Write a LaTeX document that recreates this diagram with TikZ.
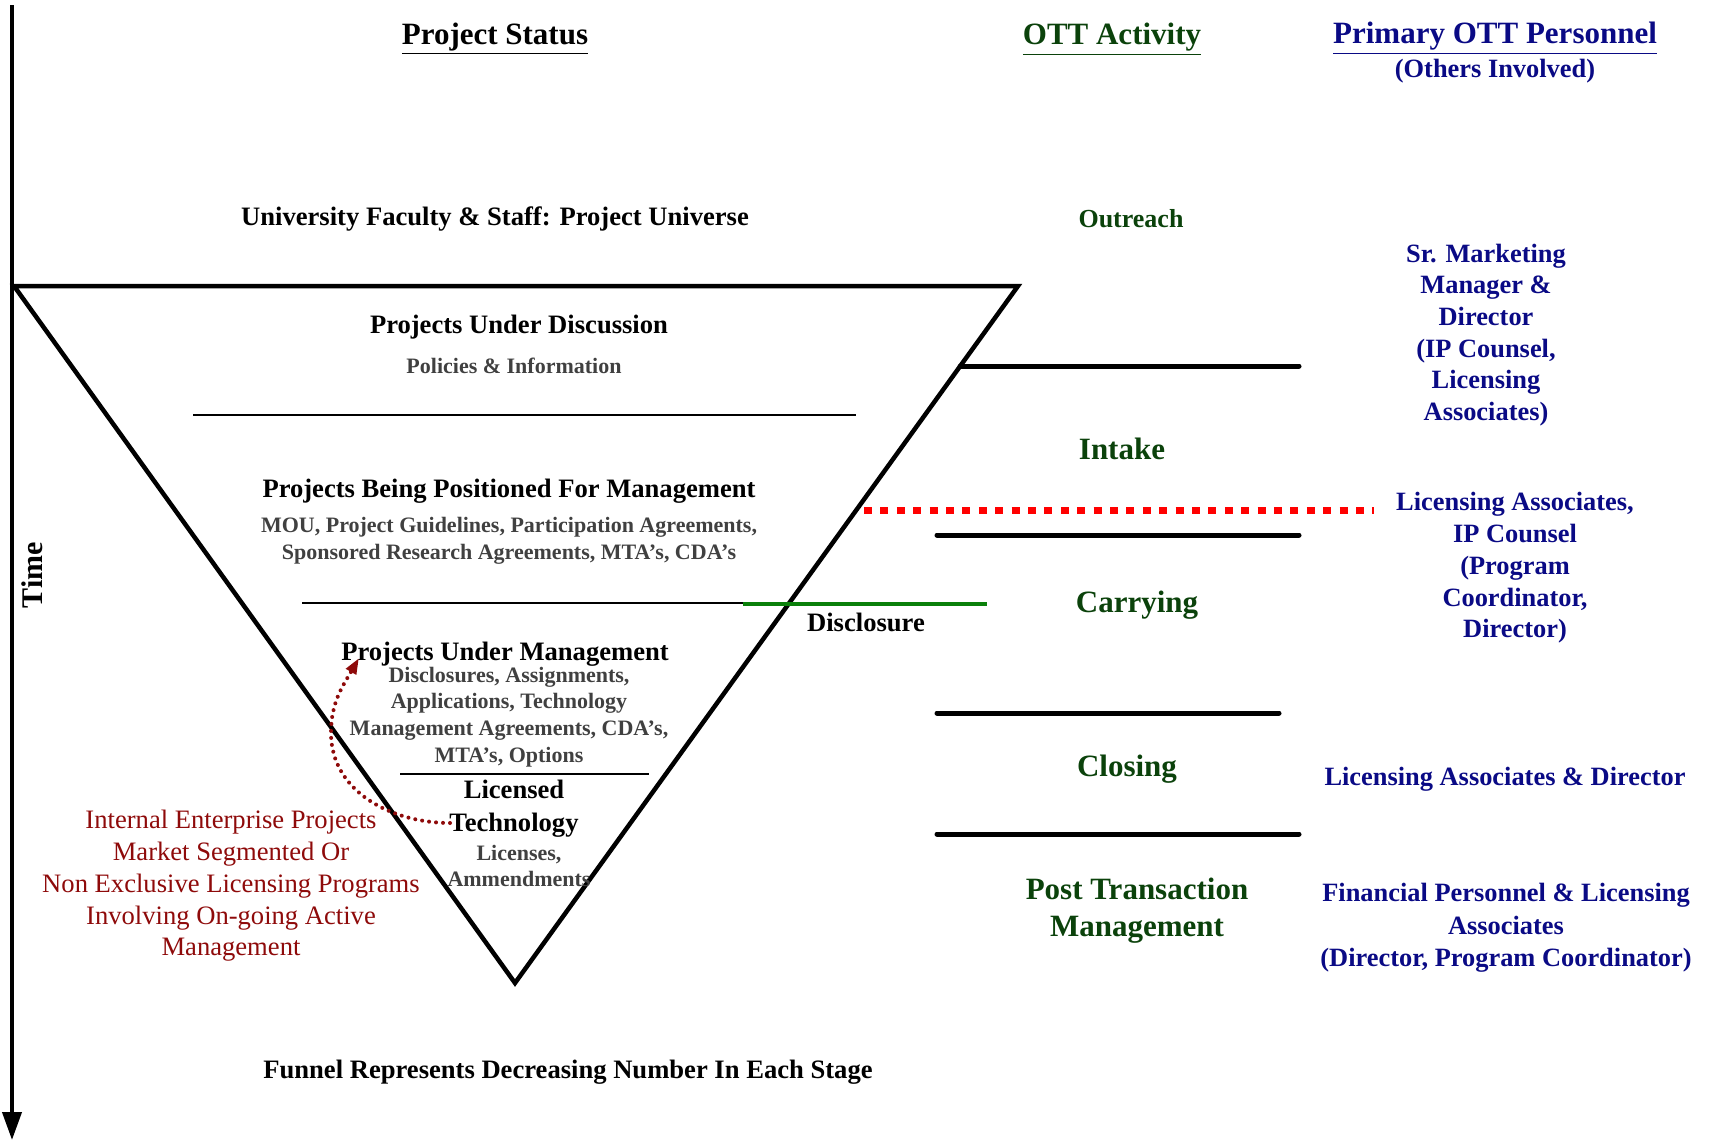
\documentclass[tikz,border=0pt]{standalone}
\usepackage{fontspec}
\setmainfont{Liberation Serif}
\usetikzlibrary{arrows.meta}

\begin{document}
\begin{tikzpicture}[x=0.5pt, y=-0.5pt,
    headText/.style={font=\bfseries\fontsize{15.5}{18}\selectfont, inner sep=0pt},
    stageText/.style={font=\bfseries\fontsize{13.3}{16}\selectfont, align=center, inner sep=0pt},
    noteText/.style={font=\bfseries\fontsize{11}{13.4}\selectfont, text=noteGrey, align=center, inner sep=0pt},
    activitySmall/.style={font=\bfseries\fontsize{13}{16}\selectfont, text=activityGreen, align=center, inner sep=0pt},
    activityText/.style={font=\bfseries\fontsize{15.5}{18.5}\selectfont, text=activityGreen, align=center, inner sep=0pt},
    staffText/.style={font=\bfseries\fontsize{13.2}{15.85}\selectfont, text=staffBlue, align=center, inner sep=0pt},
    stageLine/.style={line width=2.5pt, line cap=round},
    innerLine/.style={line width=1.2pt}]

    \definecolor{activityGreen}{HTML}{0B420B}
    \definecolor{staffBlue}{HTML}{0A0A85}
    \definecolor{noteGrey}{HTML}{404040}
    \definecolor{internalRed}{HTML}{8E0A0A}
    \definecolor{disclosureGreen}{HTML}{0A800A}

    \useasboundingbox (0,0) rectangle (1714,1141);

    % Time axis
    \coordinate (timeTop) at (12,5);
    \coordinate (timeEnd) at (12,1140);
    \draw[line width=2pt, -{Triangle[length=14pt, width=9.5pt]}] (timeTop) -- (timeEnd);
    \node[rotate=90, font=\bfseries\fontsize{15}{18}\selectfont, inner sep=0pt] (timeLabel) at (32,575) {Time};

    % Column headings
    \node[headText] (statusHead) at (495,39) {\underline{Project Status}};
    \node[headText, text=activityGreen] (activityHead) at (1112,39) {\underline{OTT Activity}};
    \node[headText, text=staffBlue] (staffHead) at (1495,38) {\underline{Primary OTT Personnel}};
    \node[staffText] (staffSub) at (1495,71) {(Others Involved)};

    % Funnel
    \coordinate (funnelL) at (14,286);
    \coordinate (funnelR) at (1018,286);
    \coordinate (funnelTip) at (515,983);
    \draw[line width=2.25pt] (funnelL) -- (funnelR) -- (funnelTip) -- cycle;

    % Lines inside the funnel
    \draw[innerLine] (193,415) -- (856,415);
    \draw[innerLine] (302,603) -- (746,603);
    \draw[innerLine] (400,774) -- (649,774);
    \draw[line width=2pt, disclosureGreen] (743,604) -- (987,604);

    % Activity dividers
    \draw[stageLine] (960,366) -- (1299,366);
    \draw[line width=3.5pt, red, dash pattern=on 4pt off 4.2pt] (864,510) -- (1374,510);
    \draw[stageLine] (937,535) -- (1299,535);
    \draw[stageLine] (937,713) -- (1279,713);
    \draw[stageLine] (937,834) -- (1299,834);

    % Project status
    \node[stageText] (universe) at (495,219) {University Faculty \& Staff: Project Universe};
    \node[stageText] (discussion) at (519,327) {Projects Under Discussion};
    \node[noteText] (discussionNote) at (514,366) {Policies \& Information};
    \node[stageText] (positioned) at (509,491) {Projects Being Positioned For Management};
    \node[noteText] (positionedNote) at (509,541) {MOU, Project Guidelines, Participation Agreements,\\Sponsored Research Agreements, MTA’s, CDA’s};
    \node[stageText] (disclosure) at (866,622) {Disclosure};
    \node[stageText] (underMgmt) at (505,654) {Projects Under Management};
    \node[noteText] (underMgmtNote) at (509,717) {Disclosures, Assignments,\\Applications, Technology\\Management Agreements, CDA’s,\\MTA’s, Options};
    \node[stageText, font=\bfseries\fontsize{13.3}{16.5}\selectfont] (licensed) at (514,809) {Licensed\\Technology};
    \node[noteText] (licensedNote) at (519,866) {Licenses,\\Ammendments};
    \node[stageText] (funnelNote) at (568,1072) {Funnel Represents Decreasing Number In Each Stage};

    % Internal programmes
    \node[font=\fontsize{13.3}{15.85}\selectfont, text=internalRed, align=center, inner sep=0pt] (internal) at (231,886)
        {Internal Enterprise Projects\\Market Segmented Or\\Non Exclusive Licensing Programs\\Involving On-going Active\\Management};
    \coordinate (internalStart) at (450,823);
    \coordinate (internalBend) at (331,733);
    \coordinate (internalEnd) at (359,658);
    \draw[internalRed, line width=2pt, dash pattern=on 0pt off 3.5pt, line cap=round,
        -{Triangle[length=8pt, width=5.5pt]}] (internalStart) to[out=180, in=270] (internalBend)
        to[out=90, in=240] (internalEnd);

    % OTT activity
    \node[activitySmall] (outreach) at (1131,219) {Outreach};
    \node[activityText] (intake) at (1122,449) {Intake};
    \node[activityText] (carrying) at (1137,605) {Carrying};
    \node[activityText] (closing) at (1127,769) {Closing};
    \node[activityText] (postTrans) at (1137,911) {Post Transaction\\Management};

    % Personnel
    \node[staffText] (marketing) at (1486,335) {Sr. Marketing\\Manager \&\\Director\\(IP Counsel,\\Licensing\\Associates)};
    \node[staffText] (licensing) at (1515,568) {Licensing Associates,\\IP Counsel\\(Program\\Coordinator,\\Director)};
    \node[staffText] (closingStaff) at (1505,779) {Licensing Associates \& Director};
    \node[staffText, font=\bfseries\fontsize{13.2}{16.2}\selectfont] (financial) at (1506,928) {Financial Personnel \& Licensing\\Associates\\(Director, Program Coordinator)};

\end{tikzpicture}
\end{document}
